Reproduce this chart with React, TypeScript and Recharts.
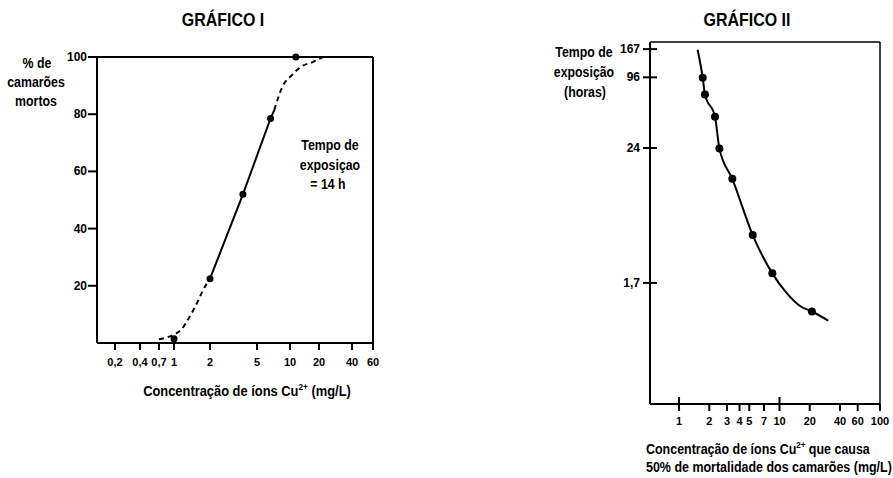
import { ComposedChart, Line, Scatter, XAxis, YAxis, ReferenceLine } from 'recharts';

const FONT = "'Liberation Sans', Arial, sans-serif";

// ---- Gráfico I ----
// tick labels of the hand-drawn concentration axis
const concTicksI = [0.2, 0.4, 0.7, 1, 2, 5, 10, 20, 40, 60];
const concLabelsI = ['0,2', '0,4', '0,7', '1', '2', '5', '10', '20', '40', '60'];
// the axis is not a true log scale: where each label sits along it (0 = origin)
const rulerI = [18, 43, 62, 77, 113, 160, 193, 222, 255, 276];
const pctTicksI = [20, 40, 60, 80, 100];

const dotConcI = [1, 2, 3.8, 6.65, 11.5];
const dotPctI = [1.5, 22.5, 52, 78.5, 100];
const solidConcI = [2, 3.8, 6.65, 7.2];
const solidPctI = [22.5, 52, 78.5, 81.5];
const dashLowConcI = [0.7, 1.14, 1.3, 1.57, 1.75, 2];
const dashLowPctI = [1.3, 4.5, 8, 14.3, 18.5, 22.5];
const dashHighConcI = [7.2, 8.5, 10.5, 12.9, 17.4, 21.8];
const dashHighPctI = [81.5, 89.5, 93.7, 96.5, 98.3, 100];

// ---- Gráfico II ----
const concTicksII = [1, 2, 3, 4, 5, 7, 10, 20, 40, 60, 100];
const timeTicksII = [1.7, 24, 96, 167];
const dotConcII = [1.72, 1.81, 2.28, 2.52, 3.39, 5.41, 8.48, 21];
const dotTimeII = [95, 68.7, 44.3, 23.8, 13.1, 4.35, 2.05, 0.97];
const curveConcII = [1.53, 1.72, 1.81, 2.28, 2.52, 3.39, 5.41, 8.48, 11.8, 16, 21, 30.6];
const curveTimeII = [165, 95, 68.7, 44.3, 23.8, 13.1, 4.35, 2.05, 1.39, 1.08, 0.97, 0.81];

function rulerPos(c: number) {
  const l = Math.log10(c);
  let i = 0;
  while (i < concTicksI.length - 2 && l > Math.log10(concTicksI[i + 1])) i++;
  const l0 = Math.log10(concTicksI[i]);
  const l1 = Math.log10(concTicksI[i + 1]);
  return rulerI[i] + ((l - l0) / (l1 - l0)) * (rulerI[i + 1] - rulerI[i]);
}

const rowsI = (cs: number[], ps: number[]) => cs.map((c, i) => ({ x: rulerPos(c), y: ps[i] }));
const rowsII = (cs: number[], ts: number[]) => cs.map((c, i) => ({ x: c, y: ts[i] }));

const txt = { fontFamily: FONT, fontWeight: 700, fill: '#000' };

const XTickI = ({ x, y, payload }: any) => (
  <g>
    <line x1={x} x2={x} y1={y} y2={y + 7} stroke="#000" strokeWidth={2} />
    <text x={x} y={y + 19} textAnchor="middle" dominantBaseline="central" fontSize={11} {...txt}>
      {concLabelsI[rulerI.indexOf(payload.value)]}
    </text>
  </g>
);

const YTickI = ({ x, y, payload }: any) => (
  <g>
    <line x1={x - 9} x2={x} y1={y} y2={y} stroke="#000" strokeWidth={2} />
    <text x={x - 10} y={y} textAnchor="end" dominantBaseline="central" fontSize={12} {...txt}>
      {payload.value}
    </text>
  </g>
);

const XTickII = ({ x, y, payload }: any) => {
  const big = payload.value === 1 || payload.value === 10;
  return (
    <g>
      <line x1={x} x2={x} y1={big ? y - 7 : y} y2={y + 7} stroke="#000" strokeWidth={2} />
      <text x={x} y={y + 17} textAnchor="middle" dominantBaseline="central" fontSize={11} {...txt}>
        {payload.value}
      </text>
    </g>
  );
};

const YTickII = ({ x, y, payload }: any) => (
  <g>
    <line x1={x - 7} x2={x + 7} y1={y} y2={y} stroke="#000" strokeWidth={2} />
    <text x={x - 10} y={y} textAnchor="end" dominantBaseline="central" fontSize={12} {...txt}>
      {String(payload.value).replace('.', ',')}
    </text>
  </g>
);

const Dot = (r: number) => (p: any) => <circle cx={p.cx} cy={p.cy} r={r} fill="#000" />;

const T = ({ x, y, size = 14, sx = 0.88, children, left = false }: any) => (
  <div
    style={{
      position: 'absolute',
      left: x,
      top: y,
      transform: left ? `translate(0,-50%) scaleX(${sx})` : `translate(-50%,-50%) scaleX(${sx})`,
      transformOrigin: left ? 'left center' : 'center center',
      whiteSpace: 'nowrap',
      fontSize: size,
      lineHeight: 1,
    }}
  >
    {children}
  </div>
);

const Cu = () => (
  <>
    Cu<sup style={{ fontSize: 9, verticalAlign: 6 }}>2+</sup>
  </>
);

export default function App() {
  const yMaxII = 192;
  return (
    <div
      style={{
        position: 'absolute',
        left: 0,
        top: 0,
        width: 893,
        height: 478,
        background: '#fff',
        fontFamily: FONT,
        fontWeight: 700,
        color: '#000',
        overflow: 'hidden',
      }}
    >
      <div style={{ position: 'absolute', left: 0, top: 0 }}>
        <ComposedChart width={450} height={478} margin={{ top: 57, right: 77, bottom: 105, left: 47 }}>
          <XAxis
            type="number"
            dataKey="x"
            domain={[0, 276]}
            ticks={rulerI}
            interval={0}
            tickSize={0}
            tickMargin={0}
            tickLine={false}
            tick={<XTickI />}
            height={30}
            axisLine={{ stroke: '#000', strokeWidth: 2 }}
          />
          <YAxis
            type="number"
            dataKey="y"
            domain={[0, 100]}
            ticks={pctTicksI}
            interval={0}
            tickSize={0}
            tickMargin={0}
            tickLine={false}
            tick={<YTickI />}
            width={50}
            axisLine={{ stroke: '#000', strokeWidth: 2 }}
          />
          <ReferenceLine y={100} stroke="#000" strokeWidth={2} />
          <ReferenceLine x={276} stroke="#000" strokeWidth={2} />
          <Line
            data={rowsI(dashLowConcI, dashLowPctI)}
            dataKey="y"
            type="monotone"
            stroke="#000"
            strokeWidth={2}
            strokeDasharray="5 4"
            dot={false}
            isAnimationActive={false}
          />
          <Line
            data={rowsI(solidConcI, solidPctI)}
            dataKey="y"
            type="linear"
            stroke="#000"
            strokeWidth={2}
            dot={false}
            isAnimationActive={false}
          />
          <Line
            data={rowsI(dashHighConcI, dashHighPctI)}
            dataKey="y"
            type="monotone"
            stroke="#000"
            strokeWidth={2}
            strokeDasharray="5 4"
            dot={false}
            isAnimationActive={false}
          />
          <Scatter data={rowsI(dotConcI, dotPctI)} shape={Dot(3.5)} isAnimationActive={false} />
        </ComposedChart>
      </div>

      <div style={{ position: 'absolute', left: 450, top: 0 }}>
        <ComposedChart width={443} height={478} margin={{ top: 42, right: 13, bottom: 44, left: 140 }}>
          <XAxis
            type="number"
            dataKey="x"
            scale="log"
            domain={[0.514, 100]}
            allowDataOverflow
            ticks={concTicksII}
            interval={0}
            tickSize={0}
            tickMargin={0}
            tickLine={false}
            tick={<XTickII />}
            height={30}
            axisLine={{ stroke: '#000', strokeWidth: 2 }}
          />
          <YAxis
            type="number"
            dataKey="y"
            scale="log"
            domain={[0.158, yMaxII]}
            allowDataOverflow
            ticks={timeTicksII}
            interval={0}
            tickSize={0}
            tickMargin={0}
            tickLine={false}
            tick={<YTickII />}
            width={60}
            axisLine={{ stroke: '#000', strokeWidth: 2 }}
          />
          <ReferenceLine y={yMaxII} stroke="#000" strokeWidth={1.5} />
          <ReferenceLine x={100} stroke="#000" strokeWidth={1.5} />
          <Line
            data={rowsII(curveConcII, curveTimeII)}
            dataKey="y"
            type="monotone"
            stroke="#000"
            strokeWidth={2}
            dot={false}
            isAnimationActive={false}
          />
          <Scatter data={rowsII(dotConcII, dotTimeII)} shape={Dot(4)} isAnimationActive={false} />
        </ComposedChart>
      </div>

      <T x={223} y={19} size={19} sx={0.84}>GRÁFICO I</T>
      <T x={747} y={19} size={19} sx={0.84}>GRÁFICO II</T>

      <T x={37} y={63}>% de</T>
      <T x={36} y={82}>camarões</T>
      <T x={36} y={101}>mortos</T>

      <T x={330} y={145}>Tempo de</T>
      <T x={330} y={165}>exposiçao</T>
      <T x={328} y={184}>= 14 h</T>

      <T x={247} y={390} sx={0.92}>
        Concentração de íons <Cu /> (mg/L)
      </T>

      <T x={584} y={52}>Tempo de</T>
      <T x={584} y={72}>exposição</T>
      <T x={585} y={92}>(horas)</T>

      <T x={646} y={448} left sx={0.89}>
        Concentração de íons <Cu /> que causa
      </T>
      <T x={646} y={467} left sx={0.89}>
        50% de mortalidade dos camarões (mg/L)
      </T>
    </div>
  );
}
